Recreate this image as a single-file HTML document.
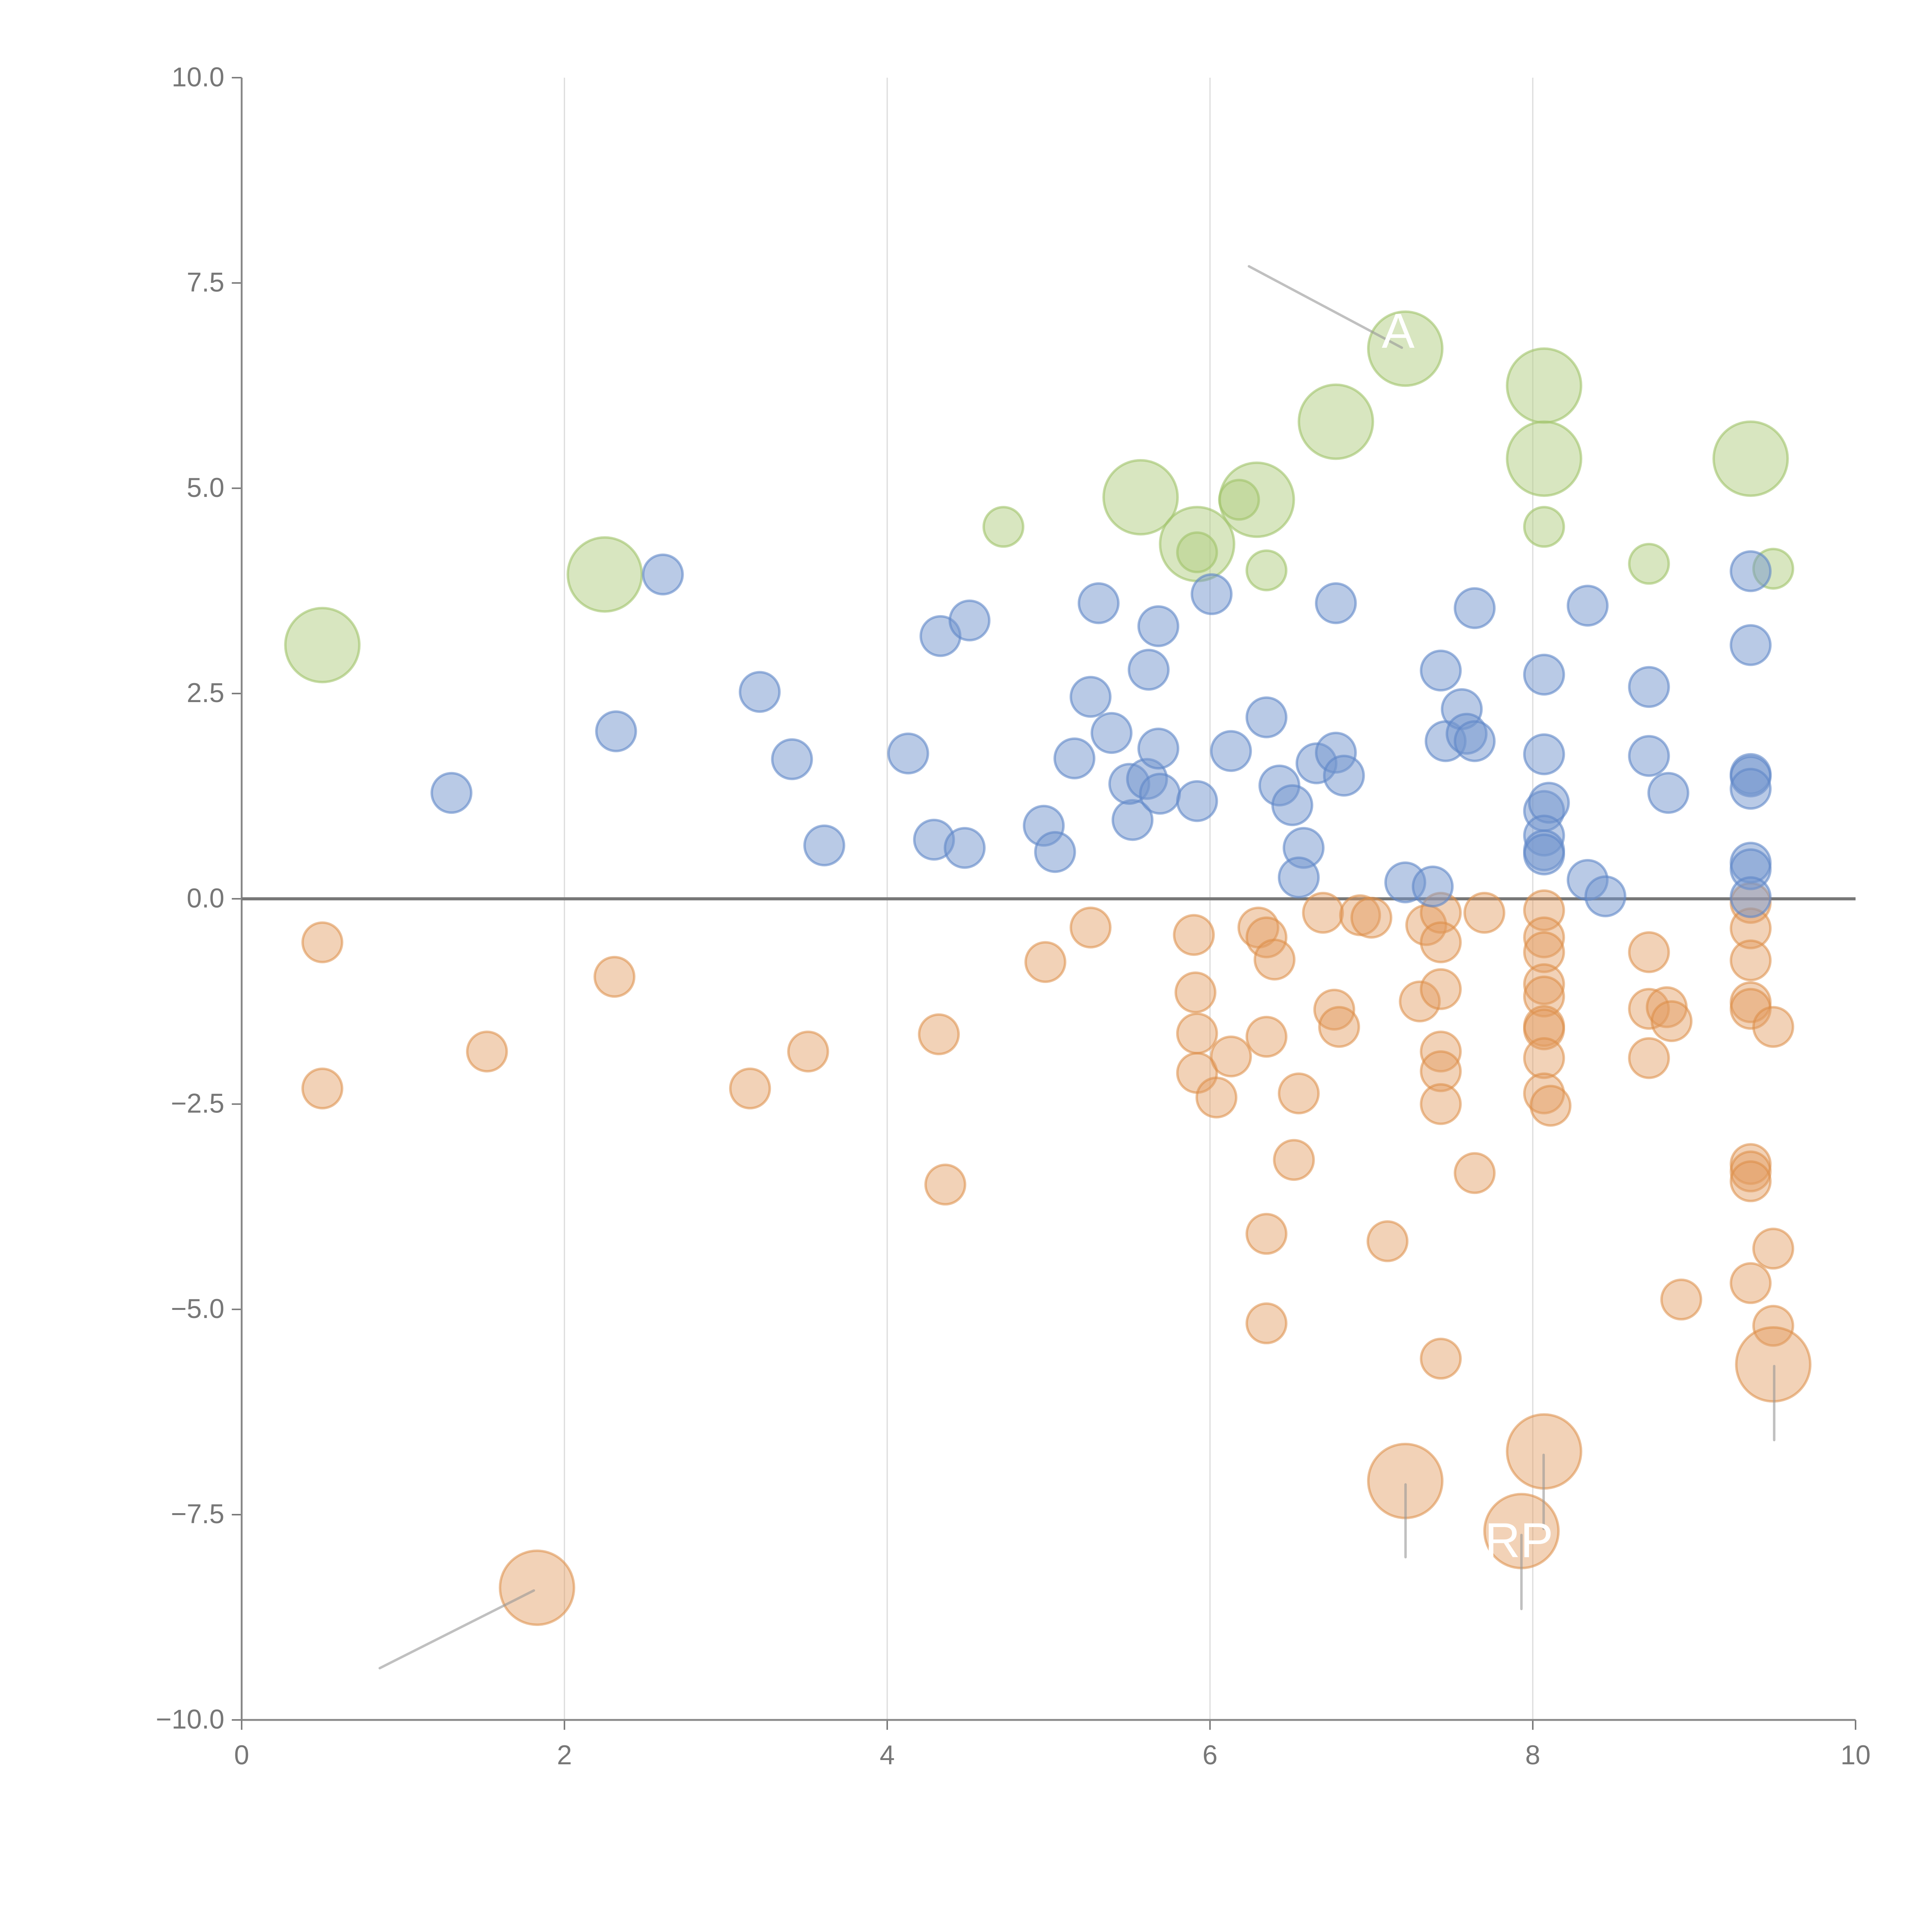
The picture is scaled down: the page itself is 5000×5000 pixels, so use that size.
<!DOCTYPE html>
<html><head><meta charset="utf-8"><style>
html,body{margin:0;padding:0;background:#fff;}
svg{display:block;}
</style></head><body>
<svg id="chart" width="5000" height="5000" viewBox="0 0 1567 1567" xmlns="http://www.w3.org/2000/svg" font-family="Liberation Sans, sans-serif">
<g id="grid"></g>
<g id="axes"></g>
<g id="marks"></g>
<g id="annos"></g>
</svg>
<script>
const xTicks=[0,2,4,6,8,10];
const yTicks=[10,7.5,5,2.5,0,-2.5,-5,-7.5,-10];
const yTickLabels=["10.0","7.5","5.0","2.5","0.0","−2.5","−5.0","−7.5","−10.0"];
const blueX=[1.3,2.32,2.61,3.21,3.41,3.61,4.13,4.29,4.33,4.48,4.51,4.97,5.04,5.16,5.26,5.31,5.39,5.52,5.5,5.61,5.62,5.68,5.68,5.69,5.92,6.01,6.13,6.35,6.43,6.51,6.58,6.55,6.66,6.78,6.83,6.78,7.21,7.38,7.43,7.46,7.56,7.59,7.64,7.64,8.07,8.07,8.07,8.1,8.07,8.07,8.07,8.34,8.34,8.45,8.72,8.72,8.84,9.35,9.35,9.35,9.35,9.35,9.35,9.35,9.35];
const blueY=[1.29,2.04,3.95,2.52,1.7,0.65,1.77,0.72,3.2,0.62,3.39,0.89,0.57,1.71,2.46,3.6,2.02,0.96,1.4,1.46,2.79,3.32,1.83,1.28,1.19,3.71,1.8,2.21,1.38,1.14,0.62,0.26,1.65,1.78,1.5,3.6,0.2,0.15,2.78,1.92,2.31,2.01,1.92,3.54,2.73,1.76,1.07,1.17,0.77,0.59,0.54,3.57,0.23,0.03,2.58,1.74,1.29,3.99,3.09,1.52,1.49,1.34,0.44,0.36,0.02];
const orangeX=[0.5,0.5,1.52,2.31,3.15,3.51,4.32,4.36,4.98,5.26,5.9,5.91,5.92,5.92,6.04,6.13,6.3,6.35,6.4,6.35,6.35,6.35,6.52,6.55,6.7,6.77,6.8,6.93,7.0,7.1,7.3,7.34,7.43,7.43,7.43,7.43,7.43,7.43,7.43,7.64,7.7,8.07,8.07,8.07,8.07,8.07,8.07,8.07,8.07,8.07,8.11,8.72,8.72,8.72,8.83,8.86,8.92,9.35,9.35,9.35,9.35,9.35,9.35,9.35,9.35,9.35,9.49,9.49,9.49];
const orangeY=[-0.53,-2.31,-1.86,-0.95,-2.31,-1.86,-1.65,-3.48,-0.77,-0.35,-0.44,-1.14,-1.64,-2.12,-2.42,-1.92,-0.35,-0.47,-0.74,-1.68,-4.08,-5.17,-3.18,-2.37,-0.17,-1.35,-1.56,-0.2,-0.23,-4.17,-1.25,-0.32,-0.17,-0.53,-1.1,-1.86,-2.1,-2.5,-5.6,-3.34,-0.17,-0.14,-0.47,-0.65,-1.04,-1.19,-1.55,-1.59,-1.94,-2.37,-2.52,-0.65,-1.34,-1.94,-1.32,-1.49,-4.88,-0.05,-0.36,-0.75,-1.26,-1.34,-3.23,-3.32,-3.44,-4.68,-1.56,-4.26,-5.2];
const orangeBigX=[1.83,7.21,8.07,7.93,9.49];
const orangeBigY=[-8.39,-7.09,-6.73,-7.7,-5.67];
const greenX=[4.72,5.92,6.18,6.35,8.07,8.72,9.49];
const greenY=[4.53,4.22,4.86,4.0,4.53,4.08,4.02];
const greenBigX=[0.5,2.25,5.57,5.92,6.29,6.78,7.21,8.07,8.07,9.35];
const greenBigY=[3.09,3.95,4.89,4.32,4.86,5.81,6.7,6.25,5.36,5.36];
const smallR=16, bigR=30;

const NS="http://www.w3.org/2000/svg";
const X=v=>196+v*130.9;
const Y=v=>729-v*66.6;
function mk(tag,attrs,parent){const e=document.createElementNS(NS,tag);for(const k in attrs)e.setAttribute(k,attrs[k]);parent.appendChild(e);return e;}
const grid=document.getElementById('grid'),axes=document.getElementById('axes'),marks=document.getElementById('marks'),annos=document.getElementById('annos');
xTicks.forEach(t=>{
  if(t>0&&t<10){const g=mk('line',{x1:X(t),x2:X(t),y1:Y(10),y2:Y(-10),stroke:'#ddd','stroke-width':1},grid);
  
  }
  const tk=mk('line',{x1:X(t),x2:X(t),y1:Y(-10),y2:Y(-10)+8,stroke:'#777','stroke-width':1.2},axes);
  
  
  const tx=mk('text',{x:X(t),y:Y(-10)+36,'text-anchor':'middle','font-size':22,fill:'#777'},axes);
  tx.textContent=t;
  
  
});
yTicks.forEach((t,i)=>{
  const tk=mk('line',{x1:X(0)-8,x2:X(0),y1:Y(t),y2:Y(t),stroke:'#777','stroke-width':1.2},axes);
  
  
  const tx=mk('text',{x:X(0)-14,y:Y(t)+7,'text-anchor':'end','font-size':22,fill:'#777'},axes);
  tx.textContent=yTickLabels[i];
  
  
});
let a=mk('line',{x1:X(0),x2:X(0),y1:Y(10),y2:Y(-10),stroke:'#888','stroke-width':1.5},axes);


a=mk('line',{x1:X(0),x2:X(10),y1:Y(-10),y2:Y(-10),stroke:'#888','stroke-width':1.5},axes);


a=mk('line',{x1:X(0),x2:X(10),y1:Y(0),y2:Y(0),stroke:'#777','stroke-width':2.5},axes);



function series(xs,ys,r,fill,stroke,name){
  xs.forEach((x,i)=>{
    const c=mk('circle',{cx:X(x),cy:Y(ys[i]),r:r,fill:fill,stroke:stroke,'stroke-width':2},marks);
    
    
  });
}
series(greenBigX,greenBigY,bigR,'rgba(178,206,130,0.5)','rgba(160,195,105,0.6)','bubble-green-large');
series(greenX,greenY,smallR,'rgba(178,206,130,0.5)','rgba(160,195,105,0.6)','bubble-green');
series(orangeX,orangeY,smallR,'rgba(226,155,95,0.45)','rgba(220,140,70,0.55)','bubble-orange');
series(orangeBigX,orangeBigY,bigR,'rgba(226,155,95,0.45)','rgba(220,140,70,0.55)','bubble-orange-large');
series(blueX,blueY,smallR,'rgba(115,150,205,0.5)','rgba(95,135,200,0.6)','bubble-blue');

const lines=[[1013,216,1137,282],[308,1353,433,1290],[1140,1204,1140,1263],[1234,1245,1234,1305],[1252,1180,1252,1240],[1439,1108,1439,1168]];
lines.forEach(l=>{
  const e=mk('line',{x1:l[0],y1:l[1],x2:l[2],y2:l[3],stroke:'rgba(150,150,150,0.6)','stroke-width':2,'stroke-linecap':'round'},annos);
  
  
});
let t=mk('text',{x:1134,y:282,'text-anchor':'middle','font-size':40,fill:'#fff'},annos);
t.textContent='A';


t=mk('text',{x:1232,y:1263,'text-anchor':'middle','font-size':40,fill:'#fff'},annos);
t.textContent='RP';


</script>
</body></html>
